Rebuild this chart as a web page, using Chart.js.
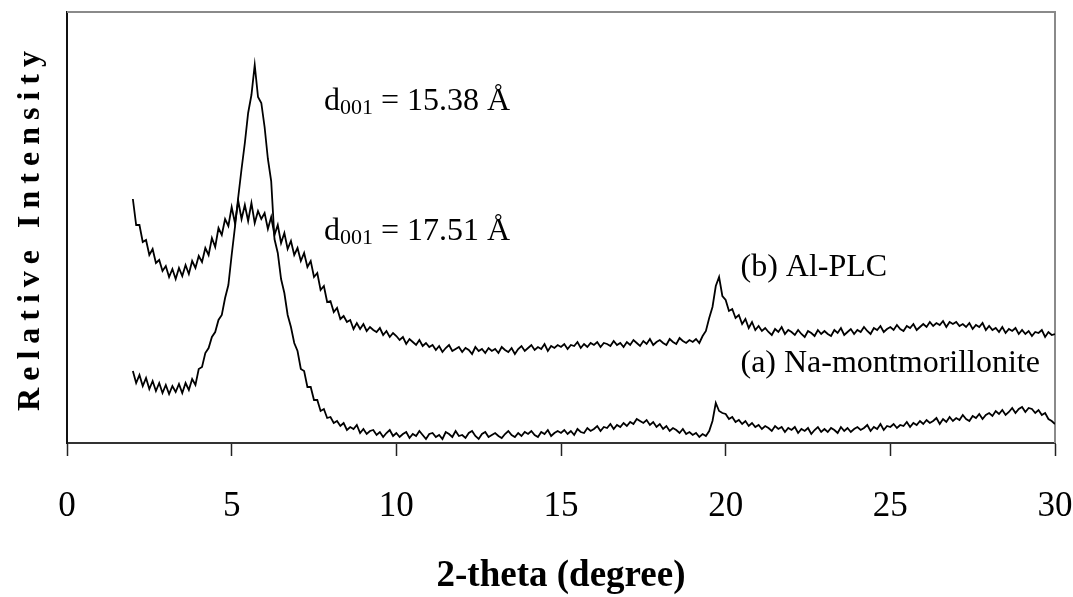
<!DOCTYPE html>
<html>
<head>
<meta charset="utf-8">
<script src="https://cdn.jsdelivr.net/npm/chart.js@4.4.1/dist/chart.umd.min.js"></script>
<style>
html,body{margin:0;padding:0;background:#fff;}
#wrap{width:1073px;height:597px;}
</style>
</head>
<body>
<div id="wrap"><canvas id="c" width="1073" height="597"></canvas></div>
<script>
// 2-theta (degree) sample positions
const twoTheta = [
2.0,2.1,2.2,2.3,2.4,2.5,2.6,2.7,2.8,2.9,
3.0,3.1,3.2,3.3,3.4,3.5,3.6,3.7,3.8,3.9,
4.0,4.1,4.2,4.3,4.4,4.5,4.6,4.7,4.8,4.9,
5.0,5.1,5.2,5.3,5.4,5.5,5.6,5.7,5.8,5.9,
6.0,6.1,6.2,6.3,6.4,6.5,6.6,6.7,6.8,6.9,
7.0,7.1,7.2,7.3,7.4,7.5,7.6,7.7,7.8,7.9,
8.0,8.1,8.2,8.3,8.4,8.5,8.6,8.7,8.8,8.9,
9.0,9.1,9.2,9.3,9.4,9.5,9.6,9.7,9.8,9.9,
10.0,10.1,10.2,10.3,10.4,10.5,10.6,10.7,10.8,10.9,
11.0,11.1,11.2,11.3,11.4,11.5,11.6,11.7,11.8,11.9,
12.0,12.1,12.2,12.3,12.4,12.5,12.6,12.7,12.8,12.9,
13.0,13.1,13.2,13.3,13.4,13.5,13.6,13.7,13.8,13.9,
14.0,14.1,14.2,14.3,14.4,14.5,14.6,14.7,14.8,14.9,
15.0,15.1,15.2,15.3,15.4,15.5,15.6,15.7,15.8,15.9,
16.0,16.1,16.2,16.3,16.4,16.5,16.6,16.7,16.8,16.9,
17.0,17.1,17.2,17.3,17.4,17.5,17.6,17.7,17.8,17.9,
18.0,18.1,18.2,18.3,18.4,18.5,18.6,18.7,18.8,18.9,
19.0,19.1,19.2,19.3,19.4,19.5,19.6,19.7,19.8,19.9,
20.0,20.1,20.2,20.3,20.4,20.5,20.6,20.7,20.8,20.9,
21.0,21.1,21.2,21.3,21.4,21.5,21.6,21.7,21.8,21.9,
22.0,22.1,22.2,22.3,22.4,22.5,22.6,22.7,22.8,22.9,
23.0,23.1,23.2,23.3,23.4,23.5,23.6,23.7,23.8,23.9,
24.0,24.1,24.2,24.3,24.4,24.5,24.6,24.7,24.8,24.9,
25.0,25.1,25.2,25.3,25.4,25.5,25.6,25.7,25.8,25.9,
26.0,26.1,26.2,26.3,26.4,26.5,26.6,26.7,26.8,26.9,
27.0,27.1,27.2,27.3,27.4,27.5,27.6,27.7,27.8,27.9,
28.0,28.1,28.2,28.3,28.4,28.5,28.6,28.7,28.8,28.9,
29.0,29.1,29.2,29.3,29.4,29.5,29.6,29.7,29.8,29.9,
30.0
];

// (a) Na-montmorillonite, relative intensity
const naMont = [
72,60,68,57,65,54,62,52,60,50,
58,49,57,51,59,50,60,53,64,58,
74,76,90,95,106,111,123,128,145,158,
188,216,246,274,300,330,348,378,346,340,
316,284,262,204,190,164,150,128,116,100,
92,74,72,56,56,43,43,32,34,25,
26,20,22,17,20,13,16,14,18,10,
14,9,12,13,8,11,6,10,13,7,
10,6,9,11,5,9,7,12,8,4,
9,10,6,8,4,11,9,6,12,7,
8,5,10,12,7,4,9,11,6,8,
10,7,5,9,12,8,6,10,7,11,
9,12,8,6,11,9,13,7,10,12,
10,13,9,12,8,14,11,10,15,12,
14,17,12,16,15,19,14,18,16,20,
17,21,19,24,22,20,23,18,21,16,
19,14,17,12,15,13,10,14,9,11,
8,10,6,9,7,12,22,40,32,30,
29,24,26,21,23,19,22,17,20,16,
18,14,17,15,12,17,14,16,11,15,
13,16,10,14,12,15,9,13,16,11,
14,11,15,13,10,16,12,15,11,14,
16,13,15,18,12,16,14,19,13,17,
16,19,15,18,17,21,16,20,18,22,
19,23,20,22,25,19,24,21,26,22,
25,23,28,24,22,27,25,29,24,28,
30,27,32,29,33,28,31,35,30,34,
36,31,35,34,30,33,28,30,24,22,
19
];

// (b) Al-PLC, relative intensity
const alPLC = [
244,218,218,201,203,188,194,180,183,172,
177,166,174,164,175,167,178,169,182,175,
187,181,195,188,205,196,215,208,224,217,
236,220,242,224,238,222,240,220,232,224,
230,214,226,208,218,200,210,194,202,188,
195,182,190,176,182,166,170,153,157,141,
142,131,135,124,127,121,123,114,120,114,
119,112,116,113,111,115,108,112,106,110,
107,103,106,99,104,101,98,103,97,100,
96,98,93,97,91,95,98,92,94,96,
91,95,93,89,96,92,94,90,95,92,
94,90,96,93,91,95,89,94,97,92,
95,98,93,96,94,99,92,97,95,98,
96,99,94,98,97,101,95,99,96,100,
98,101,96,100,99,97,102,98,100,96,
101,98,103,100,97,102,99,104,98,101,
103,100,98,104,101,99,105,102,100,103,
101,104,100,107,112,125,136,157,166,147,
143,132,134,125,128,119,124,115,121,113,
117,112,115,111,108,114,111,116,109,113,
111,108,113,109,106,112,110,107,113,109,
112,109,107,113,110,115,108,111,114,109,
113,111,116,112,109,115,113,117,111,114,
116,113,118,114,112,117,115,119,113,116,
119,116,121,117,120,118,122,116,121,119,
121,117,119,116,120,114,118,116,120,113,
117,113,115,111,116,110,114,112,115,109,
113,109,112,107,111,110,113,106,111,108,
109
];

const xTicks = [0, 5, 10, 15, 20, 25, 30];
const xTitle = '2-theta (degree)';
const yTitle = 'Relative Intensity';

// text labels placed in data coordinates
const notes = [
  {main: 'd', sub: '001', rest: ' = 15.38 Å', x: 7.8, y: 333},
  {main: 'd', sub: '001', rest: ' = 17.51 Å', x: 7.8, y: 203},
  {main: '(b) Al-PLC', sub: '', rest: '', x: 20.45, y: 167},
  {main: '(a) Na-montmorillonite', sub: '', rest: '', x: 20.45, y: 71}
];

const toPts = (xs, ys) => ys.map((v, i) => ({x: xs[i], y: v}));

const serif = "'Liberation Serif', 'Times New Roman', serif";

const framePlugin = {
  id: 'frame',
  beforeDatasetsDraw(chart) {
    const {ctx, chartArea: a} = chart;
    ctx.save();
    ctx.strokeStyle = '#8a8a8a';
    ctx.lineWidth = 2;
    ctx.beginPath();
    ctx.moveTo(a.left, a.top);
    ctx.lineTo(a.right, a.top);
    ctx.lineTo(a.right, a.bottom);
    ctx.stroke();
    ctx.restore();
  }
};

const notesPlugin = {
  id: 'notes',
  afterDatasetsDraw(chart) {
    const {ctx, scales: {x, y}} = chart;
    ctx.save();
    ctx.fillStyle = '#000';
    ctx.textBaseline = 'alphabetic';
    ctx.textAlign = 'left';
    notes.forEach(n => {
      let px = x.getPixelForValue(n.x);
      const py = y.getPixelForValue(n.y);
      ctx.font = "32px " + serif;
      ctx.fillText(n.main, px, py);
      px += ctx.measureText(n.main).width;
      if (n.sub) {
        ctx.font = "22px " + serif;
        ctx.fillText(n.sub, px, py + 4);
        px += ctx.measureText(n.sub).width;
      }
      if (n.rest) {
        ctx.font = "32px " + serif;
        ctx.fillText(n.rest, px, py);
      }
    });
    ctx.restore();
  }
};

const spacedTitlePlugin = {
  id: 'spacedTitle',
  beforeDraw(chart) {
    const s = chart.scales.y;
    if (s && !s._spacedWrapped) {
      const orig = s.drawTitle.bind(s);
      s.drawTitle = function () {
        const c = chart.ctx;
        c.save();
        c.letterSpacing = '7px';
        orig();
        c.restore();
      };
      s._spacedWrapped = true;
    }
  }
};

new Chart(document.getElementById('c'), {
  type: 'line',
  data: {
    datasets: [
      {label: '(a) Na-montmorillonite', data: toPts(twoTheta, naMont), borderColor: '#000', borderWidth: 1.8, pointRadius: 0, tension: 0, fill: false},
      {label: '(b) Al-PLC', data: toPts(twoTheta, alPLC), borderColor: '#000', borderWidth: 1.8, pointRadius: 0, tension: 0, fill: false}
    ]
  },
  options: {
    responsive: false,
    animation: false,
    layout: {padding: {top: 12, right: 18, left: 0, bottom: 0}},
    plugins: {legend: {display: false}, tooltip: {enabled: false}},
    scales: {
      x: {
        type: 'linear', min: 0, max: 30,
        afterBuildTicks: s => { s.ticks = xTicks.map(v => ({value: v})); },
        afterFit: s => { s.height = 154; s.paddingLeft = 0; s.paddingRight = 0; },
        grid: {display: true, drawOnChartArea: false, drawTicks: true, tickLength: 13, tickColor: '#222', tickWidth: 1.5},
        border: {display: true, color: '#333', width: 2},
        ticks: {color: '#000', font: {family: serif, size: 35}, padding: 30, maxRotation: 0},
        title: {display: true, text: xTitle, color: '#000', font: {family: serif, size: 37, weight: 'bold'}, padding: {top: 0, bottom: -2}}
      },
      y: {
        type: 'linear', min: 0, max: 431,
        afterFit: s => { s.width = 67; s.paddingTop = 0; s.paddingBottom = 0; },
        grid: {display: false},
        border: {display: true, color: '#111', width: 2},
        ticks: {display: false},
        title: {display: true, text: yTitle, color: '#000', font: {family: serif, size: 32, weight: 'bold'}, padding: {top: 12, bottom: 0}}
      }
    }
  },
  plugins: [framePlugin, notesPlugin, spacedTitlePlugin]
});
</script>
</body>
</html>
